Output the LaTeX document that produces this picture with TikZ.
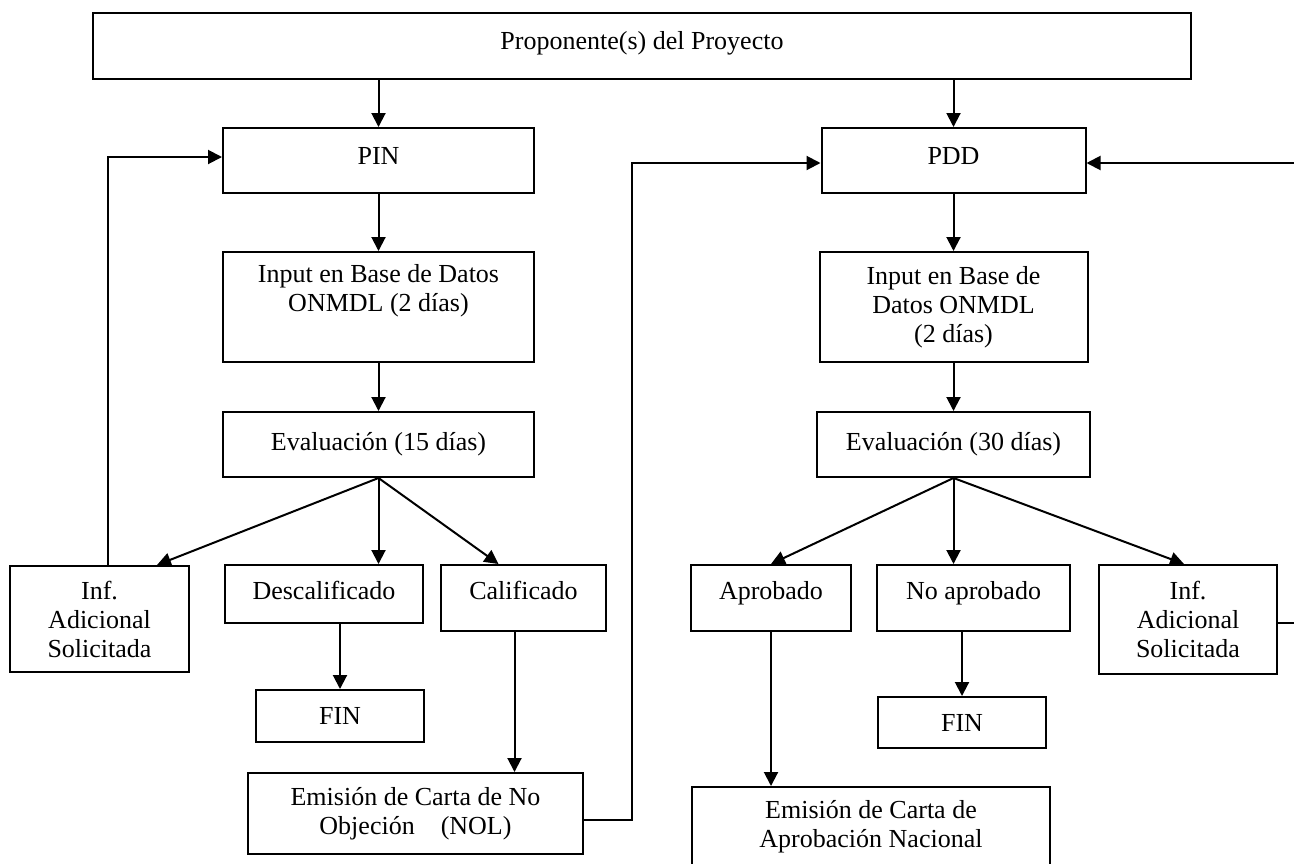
\documentclass[tikz,border=0pt]{standalone}
\usepackage{fontspec}
\setmainfont{Liberation Serif}
\usetikzlibrary{arrows.meta}
\newcommand{\boxfont}{\fontsize{13pt}{14.5pt}\selectfont}
\tikzset{
  block/.style={draw, line width=1pt, align=center, inner sep=0pt, font=\boxfont},
}
\begin{document}
\begin{tikzpicture}[x=0.5pt,y=-0.5pt,->,>={Triangle[length=7pt,width=7pt]},line width=1pt]
  \useasboundingbox (0,0) rectangle (1294,863);
  \clip (0,0) rectangle (1294,863);
  \fill[white,-] (0,0) rectangle (1294,863);

  \node [block, minimum width=549pt, minimum height=33pt, text depth=6pt] (prop) at (642,46) {Proponente(s) del Proyecto};

  % rama PIN
  \node [block, minimum width=155.5pt, minimum height=32.5pt, text depth=5pt] (pin) at (378.5,160.5) {PIN};
  \node [block, minimum width=155.5pt, minimum height=55pt] (inpin) at (378.5,307) {Input en Base de Datos\\ONMDL (2 días)\\\strut};
  \node [block, minimum width=155.5pt, minimum height=32.5pt] (evpin) at (378.5,444.5) {Evaluación (15 días)};
  \node [block, minimum width=89.5pt, minimum height=53pt] (infpin) at (99.5,619) {Inf.\\Adicional\\Solicitada};
  \node [block, minimum width=99pt, minimum height=29pt, text depth=4pt] (desc) at (324,594) {Descalificado};
  \node [block, minimum width=82.5pt, minimum height=33pt, text depth=8pt] (calif) at (523.5,598) {Calificado};
  \node [block, minimum width=84pt, minimum height=26pt] (finpin) at (340,716) {FIN};
  \node [block, minimum width=167.5pt, minimum height=40.5pt] (nol) at (415.5,813.5) {Emisión de Carta de No\\Objeción\ \ \ \ (NOL)};

  % rama PDD
  \node [block, minimum width=132pt, minimum height=32.5pt, text depth=5pt] (pdd) at (953.5,160.5) {PDD};
  \node [block, minimum width=134pt, minimum height=55pt] (inpdd) at (953.5,307) {Input en Base de\\Datos ONMDL\\(2 días)};
  \node [block, minimum width=136.5pt, minimum height=32.5pt] (evpdd) at (953.5,444.5) {Evaluación (30 días)};
  \node [block, minimum width=80pt, minimum height=33pt, text depth=8pt] (aprob) at (771,598) {Aprobado};
  \node [block, minimum width=96.5pt, minimum height=33pt, text depth=8pt] (noap) at (973.5,598) {No aprobado};
  \node [block, minimum width=89pt, minimum height=54.5pt] (infpdd) at (1188,619.5) {Inf.\\Adicional\\Solicitada};
  \node [block, minimum width=84pt, minimum height=25.5pt] (finpdd) at (962,722.5) {FIN};
  \node [block, minimum width=179pt, minimum height=39.5pt] (apn) at (871,826.5) {Emisión de Carta de\\Aprobación Nacional};

  \coordinate (nolturn) at (632,0);
  \coordinate (pddturn) at (1297,0);

  \draw (prop.south -| pin) -- (pin);
  \draw (pin) -- (inpin);
  \draw (inpin) -- (evpin);
  \draw (evpin.south) -- ([xshift=-16.5pt]infpin.north east);
  \draw (evpin.south) -- (evpin.south |- desc.north);
  \draw (evpin.south) -- ([xshift=-12.5pt]calif.north);
  \draw (finpin.north |- desc.south) -- (finpin.north);
  \draw ([xshift=-4.5pt]calif.south) -- ([xshift=-4.5pt]calif.south |- nol.north);
  \draw ([yshift=-3pt]nol.east) -| ([yshift=-1.25pt]nolturn |- pdd) -- ([yshift=-1.25pt]pdd.west);
  \draw ([xshift=4pt]infpin.north) |- ([yshift=1.75pt]pin.west);

  \draw (prop.south -| pdd) -- (pdd);
  \draw (pdd) -- (inpdd);
  \draw (inpdd) -- (evpdd);
  \draw (evpdd.south) -- (aprob.north);
  \draw (evpdd.south) -- (evpdd.south |- noap.north);
  \draw (evpdd.south) -- ([xshift=-2pt]infpdd.north);
  \draw (aprob.south) -- (aprob.south |- apn.north);
  \draw (finpdd.north |- noap.south) -- (finpdd.north);
  \draw ([yshift=-1.5pt]infpdd.east) -| ([yshift=-1.25pt]pddturn |- pdd) -- ([yshift=-1.25pt]pdd.east);
\end{tikzpicture}
\end{document}
